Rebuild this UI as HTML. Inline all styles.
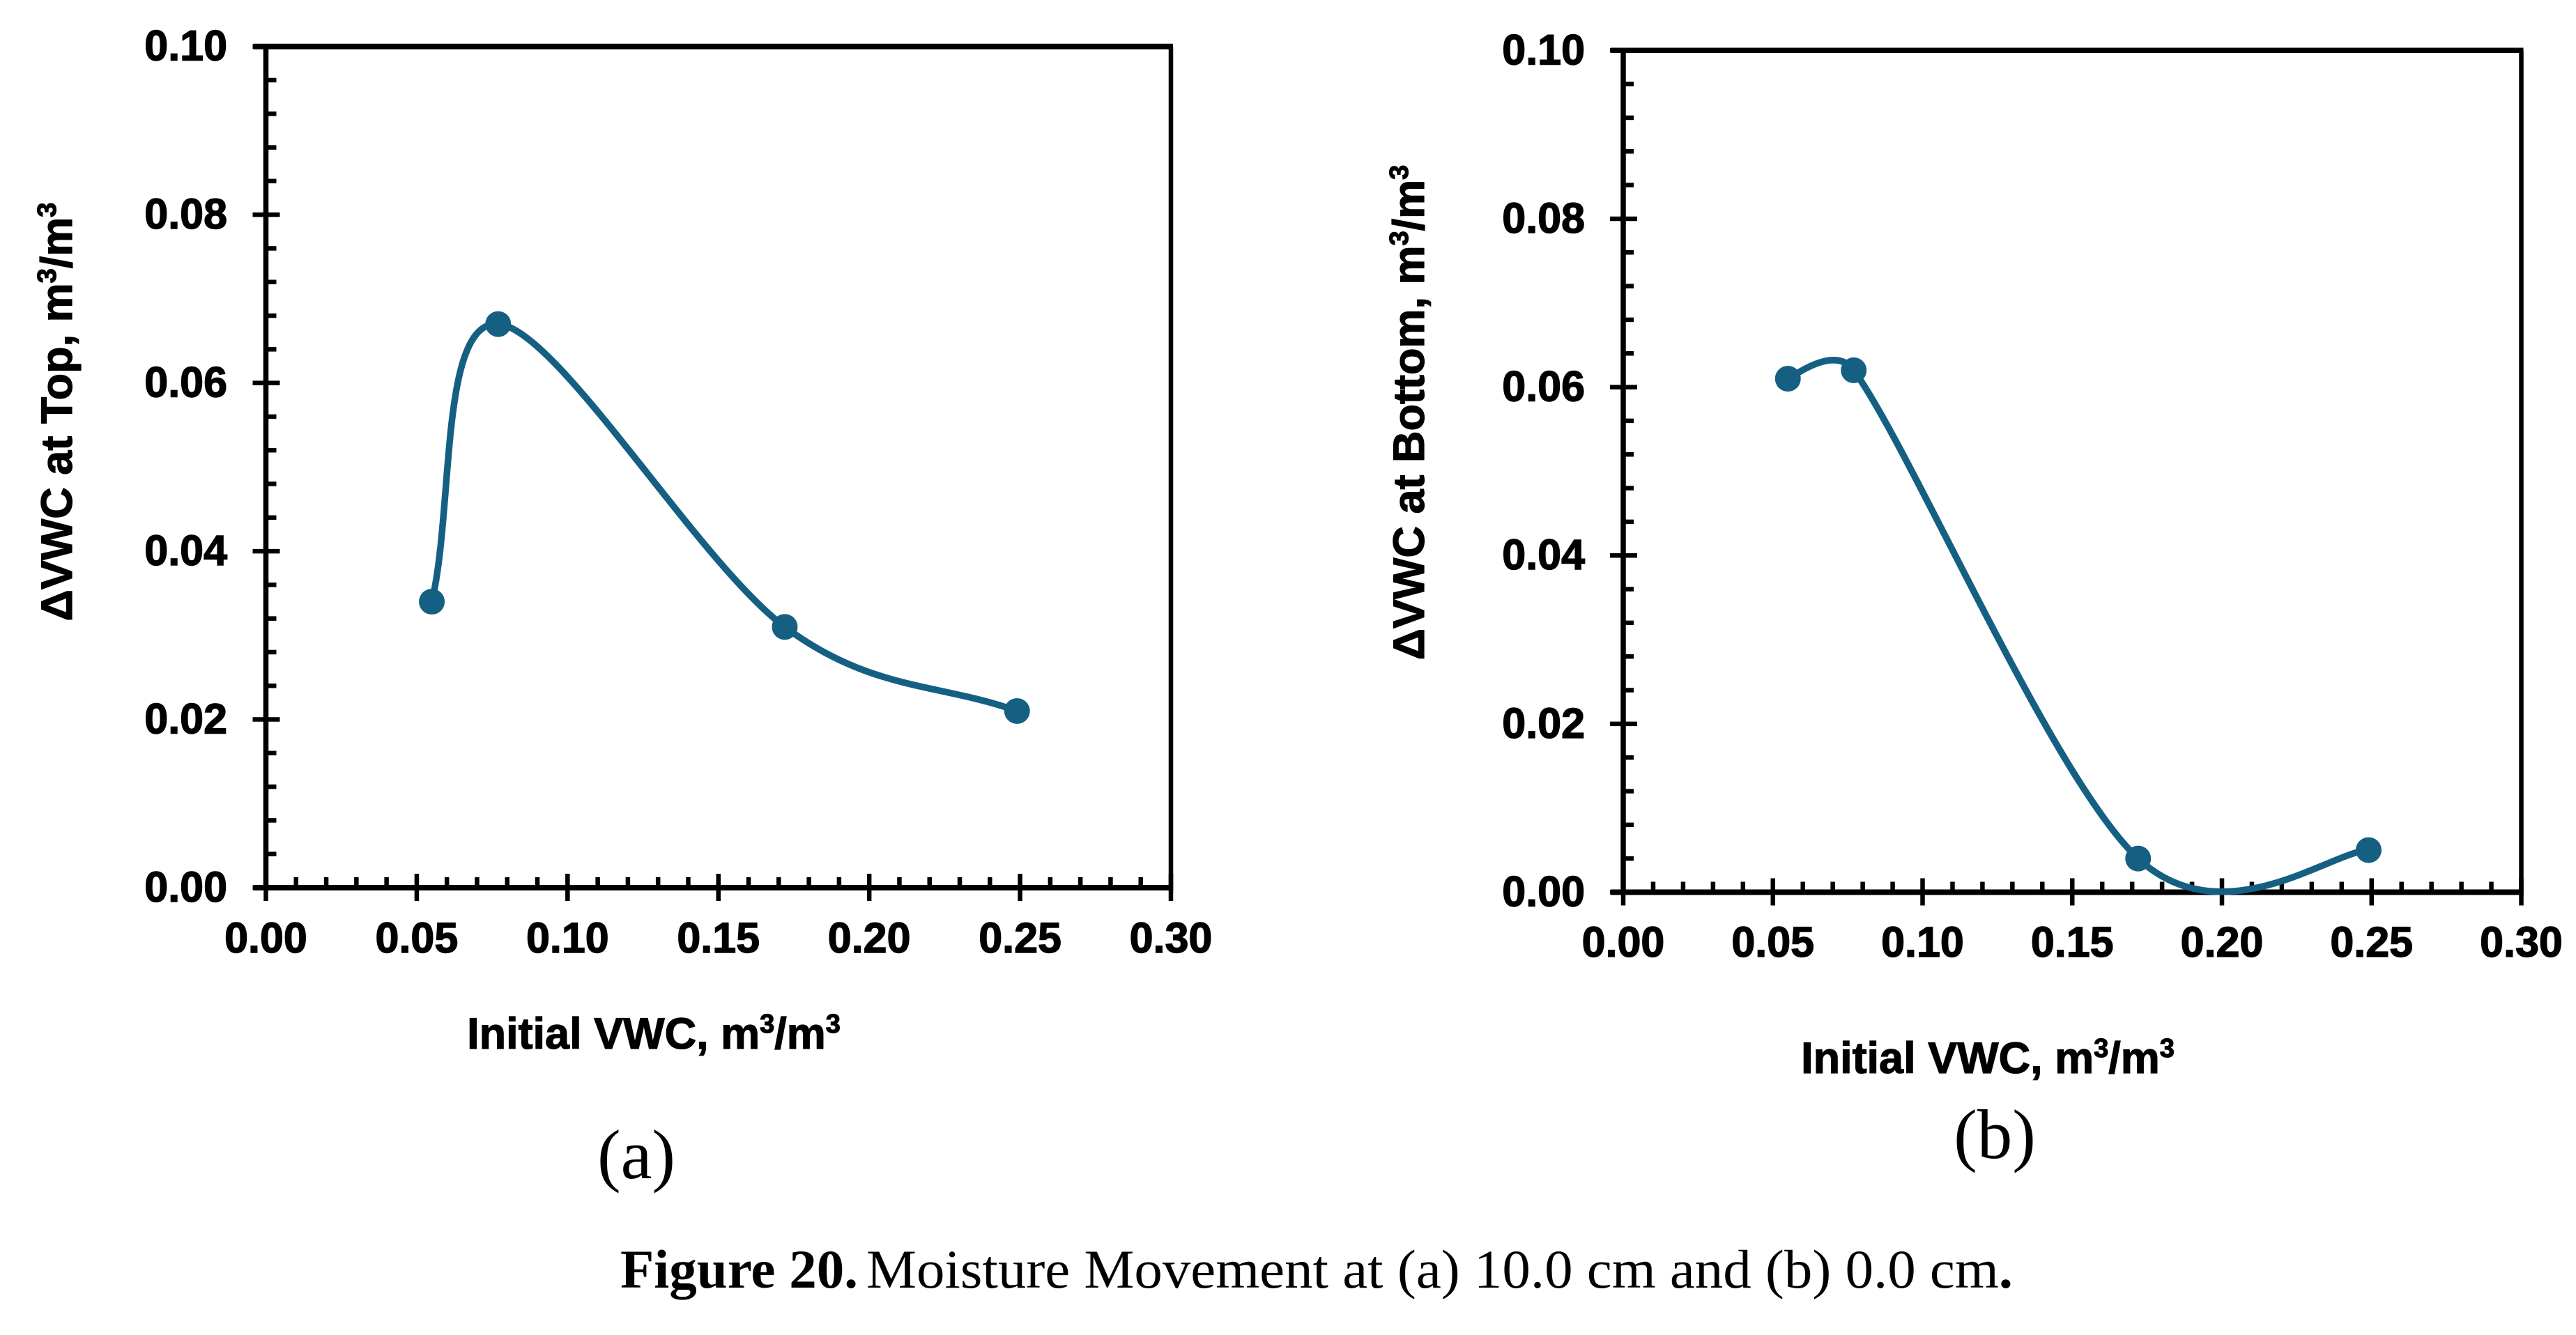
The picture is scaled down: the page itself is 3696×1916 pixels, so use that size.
<!DOCTYPE html>
<html lang="en">
<head>
<meta charset="utf-8">
<title>Moisture Movement</title>
<style>
html,body{margin:0;padding:0;background:#fff;}
svg{display:block;}
.tick{font-family:"Liberation Sans",Arial,sans-serif;font-weight:700;font-size:61px;fill:#000;stroke:#000;stroke-width:1.4px;}
.axis-title{font-family:"Liberation Sans",Arial,sans-serif;font-weight:700;font-size:63px;fill:#000;stroke:#000;stroke-width:1.2px;}
.sub{font-family:"Liberation Serif","Times New Roman",serif;font-size:101px;fill:#000;}
.cap{font-family:"Liberation Serif","Times New Roman",serif;font-size:78px;fill:#000;}
</style>
</head>
<body>
<svg id="figure" xmlns="http://www.w3.org/2000/svg" width="3696" height="1916" viewBox="0 0 3696 1916">
  <rect x="0" y="0" width="3696" height="1916" fill="#fff"/>
  <g id="panel-a"></g>
  <g id="panel-b"></g>

  <text class="axis-title" x="938" y="1505" text-anchor="middle">Initial VWC, m<tspan font-size="38" dy="-23">3</tspan><tspan dy="23">/m</tspan><tspan font-size="38" dy="-23">3</tspan></text>
  <text class="axis-title" transform="translate(103 591) rotate(-90)" text-anchor="middle">ΔVWC at Top, m<tspan font-size="38" dy="-23">3</tspan><tspan dy="23">/m</tspan><tspan font-size="38" dy="-23">3</tspan></text>
  <text class="sub" x="913" y="1691" text-anchor="middle">(a)</text>

  <text class="axis-title" x="2852" y="1540" text-anchor="middle">Initial VWC, m<tspan font-size="38" dy="-23">3</tspan><tspan dy="23">/m</tspan><tspan font-size="38" dy="-23">3</tspan></text>
  <text class="axis-title" transform="translate(2043 592) rotate(-90)" text-anchor="middle">ΔVWC at Bottom, m<tspan font-size="38" dy="-23">3</tspan><tspan dy="23">/m</tspan><tspan font-size="38" dy="-23">3</tspan></text>
  <text class="sub" x="2862" y="1662" text-anchor="middle">(b)</text>

  <text class="cap" font-weight="700" x="890" y="1848" textLength="341" lengthAdjust="spacingAndGlyphs">Figure 20.</text>
  <text class="cap" x="1243" y="1848" textLength="1645" lengthAdjust="spacingAndGlyphs">Moisture Movement at (a) 10.0 cm and (b) 0.0 cm<tspan font-weight="700">.</tspan></text>
</svg>
<script>
// Chart data
const xTickLabels = ["0.00", "0.05", "0.10", "0.15", "0.20", "0.25", "0.30"];
const yTickLabels = ["0.00", "0.02", "0.04", "0.06", "0.08", "0.10"];
const initialVwc = [0.055, 0.077, 0.172, 0.249];
const deltaVwcTop = [0.034, 0.067, 0.031, 0.021];
const deltaVwcBottom = [0.061, 0.062, 0.004, 0.005];

const NS = 'http://www.w3.org/2000/svg';
const LINE_COLOR = '#156082';
const xMax = parseFloat(xTickLabels[xTickLabels.length - 1]);
const yMax = parseFloat(yTickLabels[yTickLabels.length - 1]);

function make(tag, props, parent) {
  const el = document.createElementNS(NS, tag);
  for (const k in props) el.setAttribute(k, props[k]);
  parent.appendChild(el);
  return el;
}

// Excel-style smoothed line through pixel points
function smoothPath(pts) {
  const dist = (a, b) => Math.hypot(a[0] - b[0], a[1] - b[1]);
  let d = 'M' + pts[0][0] + ' ' + pts[0][1];
  for (let i = 0; i < pts.length - 1; i++) {
    const first = i === 0, last = i === pts.length - 2;
    const p0 = first ? pts[i] : pts[i - 1];
    const p1 = pts[i], p2 = pts[i + 1];
    const p3 = last ? pts[i + 1] : pts[i + 2];
    const d12 = dist(p1, p2), d02 = dist(p0, p2), d13 = dist(p1, p3);
    let f1, f2;
    const aLarge = d02 / 6 >= d12 / 2, bLarge = d13 / 6 >= d12 / 2;
    if (!aLarge && !bLarge) {
      f1 = first ? 1 / 3 : 1 / 6;
      f2 = last ? 1 / 3 : 1 / 6;
    } else if (aLarge && bLarge) {
      f1 = d12 / 2 / d02;
      f2 = d12 / 2 / d13;
    } else if (aLarge) {
      f1 = d12 / 2 / d02;
      f2 = d12 / 2 / d13 * (d13 / d02);
    } else {
      f1 = d12 / 2 / d02 * (d02 / d13);
      f2 = d12 / 2 / d13;
    }
    const c1 = [p1[0] + (p2[0] - p0[0]) * f1, p1[1] + (p2[1] - p0[1]) * f1];
    const c2 = [p2[0] + (p1[0] - p3[0]) * f2, p2[1] + (p1[1] - p3[1]) * f2];
    d += ' C' + c1[0] + ' ' + c1[1] + ' ' + c2[0] + ' ' + c2[1] + ' ' + p2[0] + ' ' + p2[1];
  }
  return d;
}

function drawPanel(group, box, values) {
  const xScale = v => box.left + (v / xMax) * (box.right - box.left);
  const yScale = v => box.bottom - (v / yMax) * (box.bottom - box.top);
  const black = '#000';

  // plot frame
  const topLine = make('line', {x1: box.left - 18, x2: box.right + 3, y1: yScale(yMax), y2: yScale(yMax), stroke: black, 'stroke-width': box.topW}, group);
  
  
  const rightLine = make('line', {x1: xScale(xMax), x2: xScale(xMax), y1: yScale(yMax), y2: yScale(0) + 4, stroke: black, 'stroke-width': 6.5}, group);
  
  
  const yAxis = make('line', {x1: xScale(0), x2: xScale(0), y1: yScale(yMax), y2: yScale(0), stroke: black, 'stroke-width': 7.5}, group);
  
  
  const xAxis = make('line', {x1: box.left - 18, x2: box.right + 3, y1: yScale(0), y2: yScale(0), stroke: black, 'stroke-width': 8}, group);
  
  

  // x ticks and labels
  xTickLabels.forEach((label, i) => {
    const v = parseFloat(label);
    const major = make('line', {x1: xScale(v), x2: xScale(v), y1: yScale(0) - 20, y2: yScale(0) + 19, stroke: black, 'stroke-width': 6.5}, group);
    
    
    const text = make('text', {x: xScale(v), y: box.xLabelY, 'text-anchor': 'middle', class: 'tick'}, group);
    text.textContent = label;
    
    
    if (i < xTickLabels.length - 1) {
      const step = (parseFloat(xTickLabels[i + 1]) - v) / 5;
      for (let m = 1; m < 5; m++) {
        const minor = make('line', {x1: xScale(v + m * step), x2: xScale(v + m * step), y1: yScale(0) - 15, y2: yScale(0), stroke: black, 'stroke-width': 6.5}, group);
        
        
      }
    }
  });

  // y ticks and labels
  yTickLabels.forEach((label, i) => {
    const v = parseFloat(label);
    const major = make('line', {x1: xScale(0) - 19, x2: xScale(0) + 20, y1: yScale(v), y2: yScale(v), stroke: black, 'stroke-width': 6.5}, group);
    
    
    const text = make('text', {x: box.yLabelX, y: yScale(v) + 20, 'text-anchor': 'end', class: 'tick'}, group);
    text.textContent = label;
    
    
    if (i < yTickLabels.length - 1) {
      const step = (parseFloat(yTickLabels[i + 1]) - v) / 5;
      for (let m = 1; m < 5; m++) {
        const minor = make('line', {x1: xScale(0), x2: xScale(0) + 15, y1: yScale(v + m * step), y2: yScale(v + m * step), stroke: black, 'stroke-width': 6.5}, group);
        
        
      }
    }
  });

  // series
  const pts = initialVwc.map((x, i) => [xScale(x), yScale(values[i])]);
  const curve = make('path', {d: smoothPath(pts), fill: 'none', stroke: LINE_COLOR, 'stroke-width': 9.5}, group);
  
  
  pts.forEach(p => {
    const dot = make('circle', {cx: p[0], cy: p[1], r: 18.5, fill: LINE_COLOR}, group);
    
    
  });
}

drawPanel(document.getElementById('panel-a'), {left: 381.5, right: 1680, top: 66.7, bottom: 1274, topW: 8, xLabelY: 1367, yLabelX: 326}, deltaVwcTop);
drawPanel(document.getElementById('panel-b'), {left: 2329, right: 3617.5, top: 72.3, bottom: 1280.5, topW: 7.5, xLabelY: 1373, yLabelX: 2274}, deltaVwcBottom);
</script>
</body>
</html>
